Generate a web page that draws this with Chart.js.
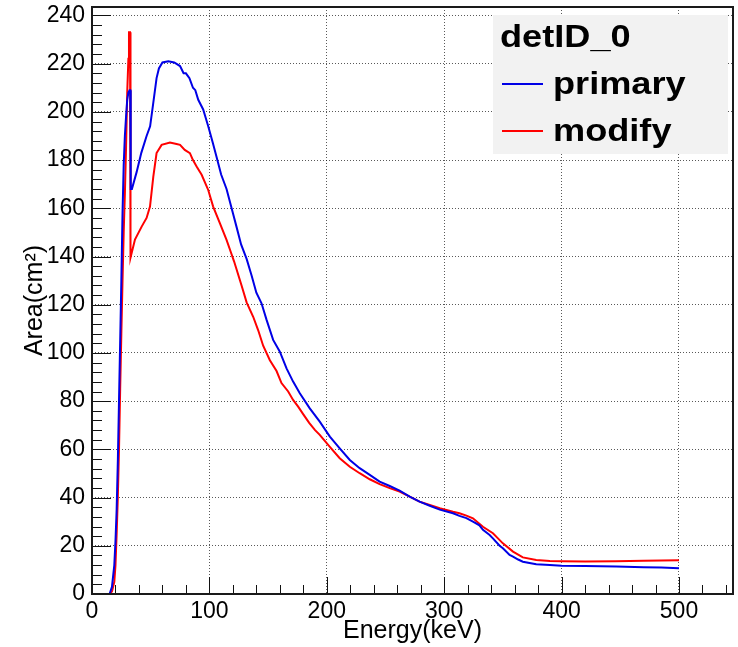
<!DOCTYPE html>
<html>
<head>
<meta charset="utf-8">
<script src="https://cdn.jsdelivr.net/npm/chart.js@4.4.1/dist/chart.umd.min.js"></script>
<style>
	html, body { margin: 0; padding: 0; background: #fff; }
	#wrap { width: 738px; height: 647px; }
</style>
</head>
<body>
<div id="wrap"><canvas id="chartLine" width="738" height="647"></canvas></div>
<script>
// values (energy in keV, area in cm2)
const primaryEnergy = [15, 17, 19, 20, 21, 22, 23, 24, 25, 26, 27, 28, 29, 30, 31, 32, 32.6, 33, 34, 38, 42, 46.5, 49.5, 52, 55, 57, 60, 65, 70, 75, 78, 80, 83, 86, 88, 90.5, 94.7, 99, 103, 106, 110, 114.6, 120, 123, 127, 131.7, 136, 140, 144.4, 148.7, 154.3, 160, 165.7, 171.3, 177, 185.5, 194, 202.6, 211, 219.6, 228, 236.6, 245, 253.6, 262, 270.6, 279, 287.7, 296.2, 307.5, 313, 318.9, 324.5, 330, 333, 338.7, 341.5, 347.2, 350, 355.7, 358.6, 363, 367, 378.4, 390, 400, 420, 446.5, 470, 485, 500];
const primaryArea = [0, 3, 12, 22, 35, 55, 80, 105, 130, 158, 178, 190, 198, 205, 208, 209, 209, 168, 168, 175, 183, 190, 194, 203, 214, 218, 220.5, 221, 220.5, 219, 216, 216, 214, 210, 209, 205, 201, 194, 187, 181.5, 174, 168, 158, 152.5, 145, 139, 132, 125, 120.6, 113.7, 105.4, 100.5, 93.6, 88.1, 83.3, 77, 71.5, 65.3, 60.4, 55.6, 52.2, 49.4, 46.6, 44.8, 42.9, 40.4, 38.3, 36.6, 35, 33.5, 32.4, 31.5, 30, 28.5, 26.6, 24.5, 23.1, 20, 19, 16.2, 15.5, 14.3, 13.4, 12.3, 12, 11.7, 11.6, 11.4, 11.1, 11, 10.7];

const modifyEnergy = [15, 17, 19, 20, 21, 22, 23, 24, 25, 26, 27, 28, 29, 30, 31, 31.5, 32.4, 32.8, 36.6, 42.3, 46.5, 49.4, 52.2, 55, 59.3, 66.4, 72, 75, 79, 83.4, 86, 89.1, 93.4, 99, 103.2, 108.9, 114.6, 117.4, 121, 127.4, 131.7, 137.3, 141.5, 145.8, 151.5, 157.2, 161.4, 167.1, 171.3, 175.6, 180, 185, 190, 194, 202.6, 211, 219.6, 228, 236.6, 245, 253.6, 262, 270.6, 279, 287.7, 296.2, 307.5, 313, 318.9, 324.5, 333, 341.5, 350, 358.6, 367, 378.4, 390, 400, 420, 446, 470, 485, 500];
const modifyArea = [0, 1, 5, 12, 25, 40, 60, 85, 108, 130, 150, 166, 185, 208, 222, 233, 233, 139.5, 147, 152.4, 156, 160.7, 173, 182.9, 186.3, 187.3, 186.7, 186.3, 184.2, 182.9, 180, 177.3, 173.9, 167.6, 160.7, 153.8, 146.9, 143, 138, 128, 121, 115, 109.5, 103, 97, 92.5, 87.5, 84, 80.5, 77.7, 74.5, 71, 68, 66, 61, 56.3, 52.8, 50.1, 47.6, 45.6, 43.9, 42.5, 40.4, 38.3, 36.9, 35.6, 34.1, 33.5, 32.5, 31.4, 27.9, 25.2, 21, 17.6, 15.2, 14.1, 13.7, 13.6, 13.5, 13.6, 13.8, 13.9, 14];

const seriesNames = ['primary', 'modify'];
const legendTitle = 'detID_0';
const xTickValues = [0, 100, 200, 300, 400, 500];
const yTickValues = [0, 20, 40, 60, 80, 100, 120, 140, 160, 180, 200, 220, 240];
const xRange = [0, 546];
const yRange = [0, 243.5];

const toPoints = (xs, ys) => xs.map((x, i) => ({ x: x, y: ys[i] }));

// ROOT-like frame, inward ticks and the grey legend box
const rootFrame = {
	id: 'rootFrame',
	afterDraw(chart) {
		const { ctx, chartArea: a, scales } = chart;
		const xs = scales.x, ys = scales.y;
		ctx.save();
		ctx.strokeStyle = '#111';
		ctx.lineWidth = 1;
		ctx.beginPath();
		for (let v = 0; v <= yRange[1]; v += 4) {
			const py = Math.round(ys.getPixelForValue(v)) + 0.5;
			const len = v % 20 === 0 ? 19 : 10;
			ctx.moveTo(a.left, py);
			ctx.lineTo(a.left + len, py);
		}
		for (let v = 0; v <= xRange[1]; v += 20) {
			const px = Math.round(xs.getPixelForValue(v)) + 0.5;
			const len = v % 100 === 0 ? 17 : 9;
			ctx.moveTo(px, a.bottom);
			ctx.lineTo(px, a.bottom - len);
		}
		ctx.stroke();

		ctx.lineWidth = 2;
		ctx.strokeStyle = '#1a1a1a';
		ctx.strokeRect(a.left, a.top, a.right - a.left, a.bottom - a.top);

		// legend
		const bx = a.right - 240, by = a.top + 8;
		ctx.fillStyle = '#f2f2f2';
		ctx.fillRect(bx, by, 235, 139);
		ctx.fillStyle = '#000';
		ctx.font = "bold 32px 'Liberation Sans', Arial, sans-serif";
		ctx.textBaseline = 'alphabetic';
		const text = (s, x, y) => {
			ctx.save();
			ctx.translate(x, y);
			ctx.scale(1.13, 1);
			ctx.fillText(s, 0, 0);
			ctx.restore();
		};
		text(legendTitle, bx + 7, by + 32);
		const colors = chart.data.datasets.map(d => d.borderColor);
		[by + 69, by + 116].forEach((ly, i) => {
			ctx.strokeStyle = colors[i];
			ctx.lineWidth = 2;
			ctx.beginPath();
			ctx.moveTo(bx + 9, ly);
			ctx.lineTo(bx + 50, ly);
			ctx.stroke();
			ctx.fillStyle = '#000';
			text(seriesNames[i], bx + 60, ly + 10);
		});
		ctx.restore();
	}
};

// chart.js pads the area for half of the end tick labels, root does not
const noEdgePad = s => {
	s.paddingTop = 0;
	s.paddingBottom = 0;
	s.paddingLeft = 0;
	s.paddingRight = 0;
};

Chart.defaults.font.family = "'Liberation Sans', Arial, sans-serif";
Chart.defaults.color = '#000';

new Chart(document.getElementById('chartLine'), {
	type: 'line',
	data: {
		datasets: [
			{
				label: seriesNames[0],
				data: toPoints(primaryEnergy, primaryArea),
				borderColor: '#0000e6',
				borderWidth: 2,
				pointRadius: 0,
				tension: 0,
			},
			{
				label: seriesNames[1],
				data: toPoints(modifyEnergy, modifyArea),
				borderColor: '#ff0000',
				borderWidth: 2,
				pointRadius: 0,
				tension: 0,
			},
		],
	},
	options: {
		responsive: false,
		animation: false,
		devicePixelRatio: 1,
		layout: { padding: { top: 7, right: 5, left: 0, bottom: 0 } },
		plugins: { legend: { display: false }, tooltip: { enabled: false } },
		scales: {
			x: {
				type: 'linear',
				min: xRange[0],
				max: xRange[1],
				afterBuildTicks: s => { s.ticks = xTickValues.map(v => ({ value: v })); },
				afterFit: s => { s.height = 53; noEdgePad(s); },
				ticks: { font: { size: 23 }, padding: 4, maxRotation: 0, autoSkip: false },
				grid: { color: 'rgba(0,0,0,0.65)', lineWidth: 1, drawTicks: false },
				border: { display: false, dash: [1, 2] },
				title: { display: true, text: 'Energy(keV)', font: { size: 25 }, padding: { top: 0, bottom: 1 } },
			},
			y: {
				type: 'linear',
				min: yRange[0],
				max: yRange[1],
				afterBuildTicks: s => { s.ticks = yTickValues.map(v => ({ value: v })); },
				afterFit: s => { s.width = 92; noEdgePad(s); },
				ticks: { font: { size: 23 }, padding: 7, autoSkip: false },
				grid: { color: 'rgba(0,0,0,0.65)', lineWidth: 1, drawTicks: false },
				border: { display: false, dash: [1, 2] },
				title: { display: true, text: 'Area(cm²)', font: { size: 25 }, padding: { top: 20, bottom: 0 } },
			},
		},
	},
	plugins: [rootFrame],
});
</script>
</body>
</html>
